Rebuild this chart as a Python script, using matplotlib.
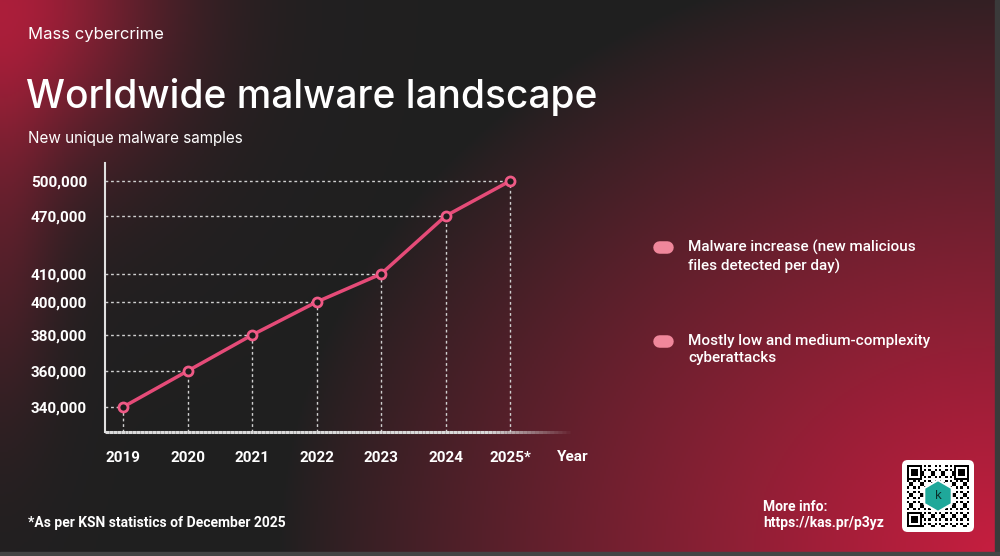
import numpy as np
import matplotlib.pyplot as plt
from matplotlib.patches import FancyBboxPatch, RegularPolygon, Rectangle
from matplotlib.lines import Line2D
from matplotlib.collections import LineCollection

# Data
years = [2019, 2020, 2021, 2022, 2023, 2024, 2025]
year_labels = ['2019', '2020', '2021', '2022', '2023', '2024', '2025*']
samples = [340000, 360000, 380000, 400000, 410000, 470000, 500000]
y_ticks = [340000, 360000, 380000, 400000, 410000, 470000, 500000]

# The original axis is not linear: knot values and their relative heights
scale_vals = [320000, 340000, 360000, 380000, 400000, 410000, 470000, 500000, 520000]
scale_pos = [-11, 25, 61, 97, 130, 158, 216, 251, 274]

legend_items = ['Malware increase (new malicious\nfiles detected per day)',
                'Mostly low and medium-complexity\ncyberattacks']

plt.rcParams['font.family'] = ['Inter', 'DejaVu Sans']
body_font = ['Roboto', 'DejaVu Sans']

W, H = 1000, 556
fig = plt.figure(figsize=(W / 100, H / 100), dpi=100)

# Background gradient
bg = fig.add_axes([0, 0, 1, 1])
u, w = np.meshgrid(np.linspace(0, 1, 500), np.linspace(0, 1, 278))
dark = np.array([0.125, 0.125, 0.125])
red = np.array([0.78, 0.12, 0.25])
r1 = np.clip(1 - np.sqrt(((1 - u) / 0.72) ** 2 + ((1 - w) / 1.1) ** 2), 0, 1) ** 0.9
r2 = 0.8 * np.exp(-(u ** 2 / 0.025 + w ** 2 / 0.09))
r3 = 0.25 * np.exp(-(u ** 2 / 0.003)) * np.exp(-((w - 0.45) ** 2 / 0.1))
r = np.clip(r1 + r2 + r3, 0, 1)[..., None]
img = dark * (1 - r) + red * r
bg.imshow(img, extent=[0, 1, 0, 1], aspect='auto', origin='upper')
bg.add_patch(Rectangle((0.995, 0), 0.005, 1, color='#3a3a3a'))
bg.add_patch(Rectangle((0, 0), 1, 0.007, color='#444444'))
bg.set_xlim(0, 1)
bg.set_ylim(0, 1)
bg.axis('off')


def fwd(v):
    return np.interp(v, scale_vals, scale_pos)


def inv(p):
    return np.interp(p, scale_pos, scale_vals)


ax = fig.add_axes([0.105, 1 - 432 / H, 0.465, (432 - 163) / H])
ax.set_facecolor('none')
ax.set_yscale('function', functions=(fwd, inv))
x0, x1 = 2018.72, 2025.93
y0, y1 = inv(0), inv(269)
ax.set_xlim(x0, x1)
ax.set_ylim(y0, y1)

# dotted guide lines
ax.hlines(samples, x0, years, colors='#d0d0d0', linestyles=(0, (2, 2)), lw=1)
ax.vlines(years, y0, samples, colors='#d0d0d0', linestyles=(0, (2, 2)), lw=1)

ax.plot(years, samples, color='#e54b78', lw=2.5, marker='o', ms=6.5,
        mfc='#1c1c1c', mec='#ef5a86', mew=2, zorder=5)

ax.set_xticks(years)
ax.set_xticklabels(year_labels)
ax.set_yticks(y_ticks)
ax.set_yticklabels([f'{v:,}' for v in y_ticks])
ax.minorticks_off()
ax.tick_params(length=0, colors='white', labelsize=11)
ax.tick_params(axis='x', pad=14)
ax.tick_params(axis='y', pad=13)
for lab in ax.get_xticklabels() + ax.get_yticklabels():
    lab.set_fontweight('bold')
    lab.set_family(body_font)
for s in ['top', 'right', 'bottom']:
    ax.spines[s].set_visible(False)
ax.spines['left'].set_color('#e0e0e0')
ax.spines['left'].set_linewidth(1.5)

# bottom axis line fading out to the right
xs = np.linspace(0, 1, 120)
segs = [[(xs[k], 0), (xs[k + 1], 0)] for k in range(len(xs) - 1)]
alphas = np.clip((1 - xs[:-1]) / 0.18, 0, 1)
cols = [(0.85, 0.85, 0.85, a) for a in alphas]
ax.add_collection(LineCollection(segs, colors=cols, linewidths=2.2,
                                 transform=ax.transAxes, clip_on=False))

fig.text(573 / W, 1 - 457 / H, 'Year', color='white', fontsize=11,
         fontweight='bold', family=body_font, ha='center', va='center')

# Titles
fig.text(28 / W, 1 - 35 / H, 'Mass cybercrime', color='white', fontsize=12,
         ha='left', va='center')
fig.text(26 / W, 1 - 97 / H, 'Worldwide malware landscape', color='white',
         fontsize=28, fontweight='medium', ha='left', va='center')
fig.text(28 / W, 1 - 139 / H, 'New unique malware samples', color='white',
         fontsize=11, ha='left', va='center')

# Legend-like bullets
for i, txt in enumerate(legend_items):
    yc = 1 - (247 + 94 * i) / H
    fig.add_artist(Line2D([659 / W, 667 / W], [yc, yc], lw=9, color='#f0879b',
                          solid_capstyle='round', transform=fig.transFigure))
    fig.text(688 / W, yc + 7 / H, txt, color='white', fontsize=11,
             fontweight='medium', family=body_font, ha='left', va='top',
             linespacing=1.3)

# Footer
fig.text(28 / W, 1 - 523 / H, '*As per KSN statistics of December 2025',
         color='white', fontsize=10, fontweight='bold', family=body_font,
         ha='left', va='center')
fig.text(763 / W, 1 - 507 / H, 'More info:', color='white', fontsize=10,
         fontweight='bold', family=body_font, ha='left', va='center')
fig.text(763 / W, 1 - 523 / H, 'https://kas.pr/p3yz', color='white', fontsize=10,
         fontweight='bold', family=body_font, ha='left', va='center')

# QR code placeholder
qr = fig.add_axes([902 / W, 1 - 532 / H, 72 / W, 72 / H])
qr.axis('off')
qr.add_patch(FancyBboxPatch((0, 0), 1, 1, boxstyle='round,pad=0,rounding_size=0.08',
                            fc='white', ec='none', zorder=1))
n = 29
ii, jj = np.meshgrid(np.arange(n), np.arange(n))
pat = ((ii * 7 + jj * 13 + ii * jj * 3) % 5 < 2).astype(float)
for (a, b) in [(0, 0), (0, n - 7), (n - 7, 0)]:
    pat[a:a + 7, b:b + 7] = 1
    pat[a + 1:a + 6, b + 1:b + 6] = 0
    pat[a + 2:a + 5, b + 2:b + 5] = 1
qr.imshow(1 - pat, cmap='gray', extent=[0.07, 0.93, 0.07, 0.93], vmin=0, vmax=1,
          interpolation='nearest', zorder=2)
qr.add_patch(RegularPolygon((0.5, 0.5), 6, radius=0.22, fc='#1fa89a', ec='white',
                            lw=1.5, zorder=3))
qr.text(0.5, 0.5, 'k', color='#0b2e2a', fontsize=9, ha='center', va='center', zorder=4)
qr.set_xlim(0, 1)
qr.set_ylim(0, 1)

fig.savefig('out.png', dpi=100)
